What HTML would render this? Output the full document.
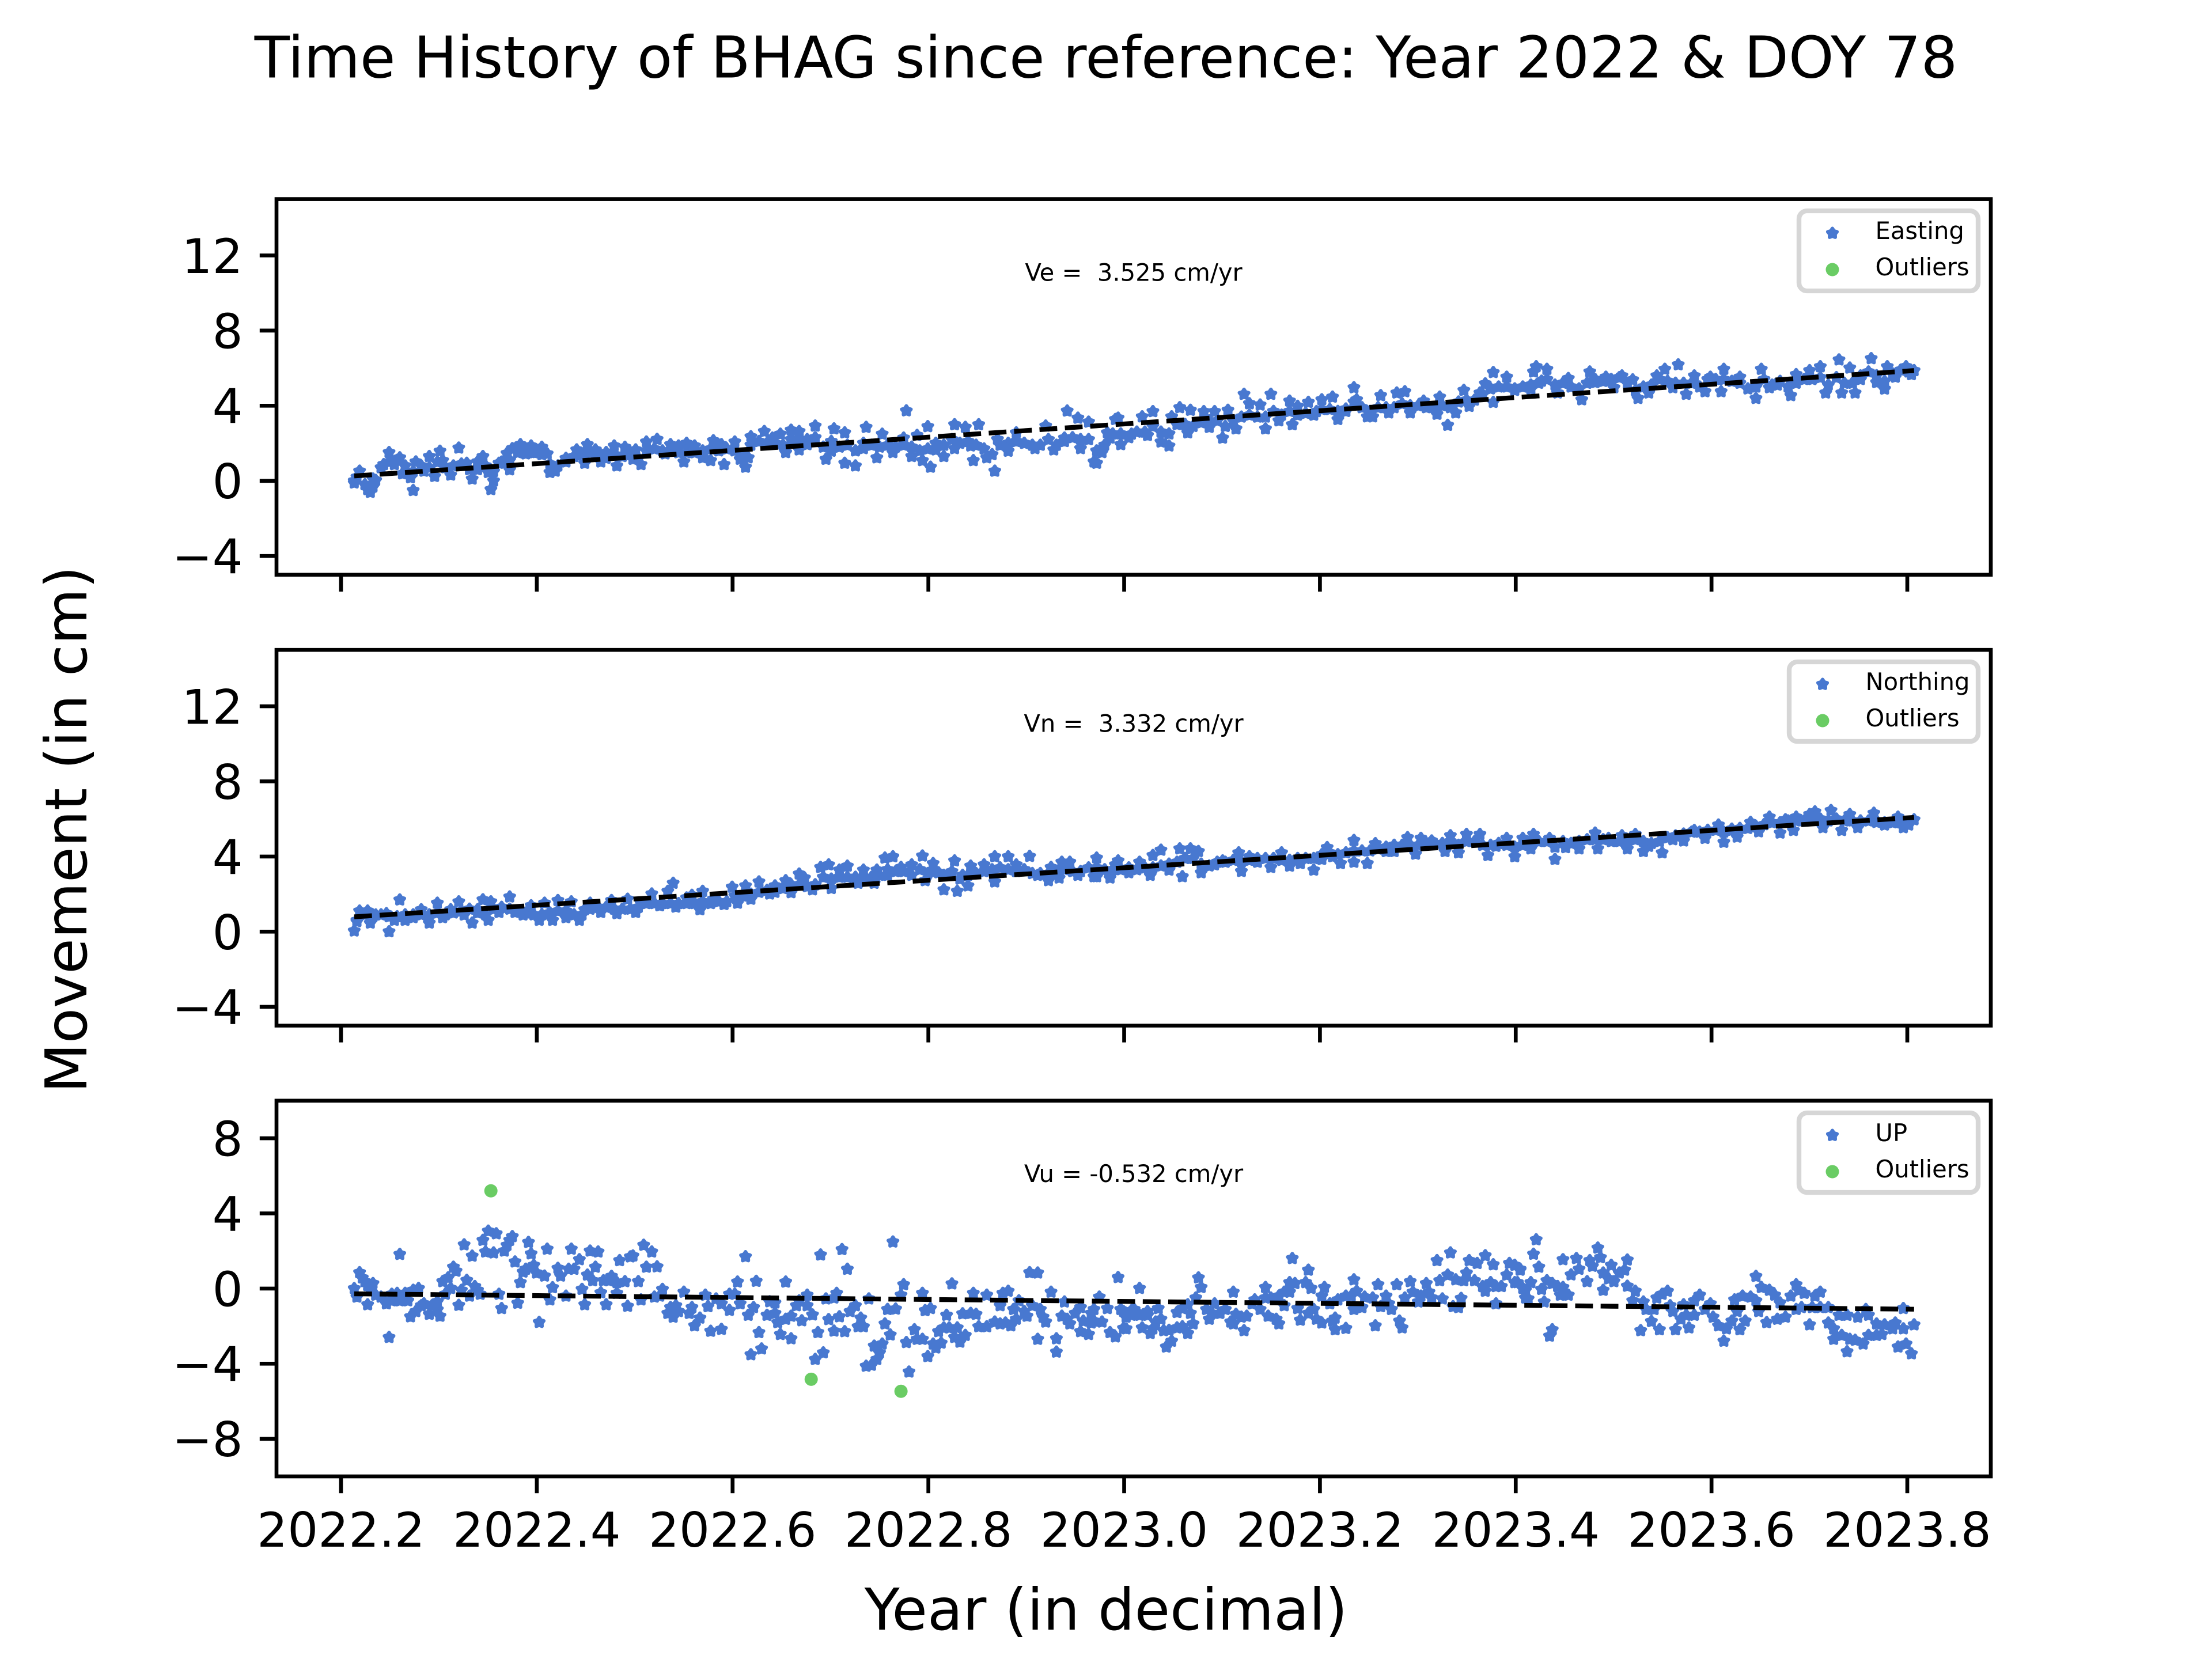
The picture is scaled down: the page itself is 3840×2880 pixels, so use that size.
<!DOCTYPE html>
<html lang="en">
<head>
<meta charset="utf-8">
<title>Time History of BHAG since reference</title>
<style>
html,body{margin:0;padding:0;background:#fff;}
svg{display:block;}
text{font-family:"DejaVu Sans","Liberation Sans",sans-serif;fill:#000;white-space:pre;}
</style>
</head>
<body>
<svg id="chart" xmlns="http://www.w3.org/2000/svg" width="3840" height="2880" viewBox="0 0 3840 2880">
<rect x="0" y="0" width="3840" height="2880" fill="#ffffff"/>
<text x="1920" y="134.5" font-size="100" text-anchor="middle">Time History of BHAG since reference: Year 2022 &amp; DOY 78</text>
<text x="1920" y="2829" font-size="100" text-anchor="middle">Year (in decimal)</text>
<text x="0" y="0" font-size="100" text-anchor="middle" transform="translate(150 1440) rotate(-90)">Movement (in cm)</text>
</svg>
<script>
// ---- chart data ----
const startYear = 2022.2135;
const xTickLabels = ["2022.2","2022.4","2022.6","2022.8","2023.0","2023.2","2023.4","2023.6","2023.8"];
const xTickYears = [2022.2,2022.4,2022.6,2022.8,2023.0,2023.2,2023.4,2023.6,2023.8];
const enTicks = [12,8,4,0,-4];
const upTicks = [8,4,0,-4,-8];

const eastDays = [0,2,0,5,6,8,7,11,13,15,17,18,22,21,23,26,28,32,30,33,36,39,42,44,46,48,50,51,52,54,58,57,59,62,64,66,68,70,72,73,75,79,83,86,87,90,92,94,97,98,101,104,105,107,109,113,116,118,121,123,124,127,130,133,134,137,138,142,144,146,147,148,153,156,159,161,163,166,166,169,172,176,179,178,183,183,187,190,191,195,197,201,206,205,208,210,212,215,214,217,220,224,224,228,230,231,233,236,239,240,244,247,250,254,258,261,265,266,270,271,274,276,278,281,284,
277,279,282,285,286,290,294,296,298,301,304,305,308,311,312,317,319,321,324,326,329,332,334,338,340,342,345,349,350,352,356,361,359,365,367,370,373,374,378,380,383,386,389,392,394,399,404,405,408,411,414,416,420,422,425,425,430,433,439,440,441,445,443,449,453,458,461,463,467,470,473,477,479,483,486,489,492,494,497,500,504,506,511,510,517,523,525,528,536,531,538,543,547,549,554,555,560,558,562,566,568,571,572,575,579,581,582];
const eastValues = [0,.52,-.11,-.46,-.61,.03,-.32,.87,1.51,.87,1.23,.38,-.51,.17,1.01,.52,1.30,1.58,.24,1.08,.31,1.75,.94,.10,1.01,1.30,.45,-.46,0,.94,.59,1.46,1.72,1.93,1.44,1.86,1.51,1.79,1.44,.45,.52,1.01,1.65,.94,1.93,1.65,1.01,1.51,1.86,.80,1.79,1.15,1.65,.87,2.07,2.21,1.44,1.93,1.86,1.01,2.00,1.86,1.23,1.08,2.14,1.93,.87,2.07,1.15,.73,1.23,2.35,2.63,2.28,2.49,1.51,2.70,1.65,2.63,1.93,2.92,1.15,2.77,1.58,.94,2.56,.80,1.72,2.85,1.23,2.49,1.51,3.73,2.28,1.30,2.42,1.08,.73,2.89,1.65,1.30,2.99,1.72,2.85,1.86,1.08,2.99,1.23,.52,2.21,1.58,2.56,2.00,1.72,2.92,1.65,2.28,3.72,3.34,1.72,3.13,1.01,1.58,2.56,3.27,
.94,1.51,2.28,3.34,1.93,2.49,3.41,2.42,3.69,2.07,1.86,3.41,3.90,2.56,3.76,3.69,2.85,3.69,2.28,3.76,2.77,4.61,4.11,4.04,2.77,4.61,3.20,4.25,2.99,3.97,4.18,4.32,3.69,4.46,3.27,3.83,4.96,4.32,3.41,3.41,4.54,3.62,4.68,4.75,3.62,4.25,3.55,4.46,2.96,3.62,4.82,3.97,4.68,5.17,5.77,4.18,5.52,4.82,4.89,5.80,6.08,5.94,5.31,4.68,5.45,4.32,5.80,5.24,5.52,4.96,5.59,5.38,4.39,4.68,5.59,5.94,4.96,6.18,4.61,5.59,4.75,5.52,5.94,4.75,5.52,4.39,5.94,4.96,4.54,5.10,5.66,5.87,6.08,4.68,6.44,4.68,4.68,6.01,5.59,6.51,5.24,4.89,6.08,5.52,6.08,5.66,5.87];
const eastTrend = [0.26,5.87];
const eastOutliers = [];

const northDays = [0,1,2,5,6,8,12,13,15,17,19,22,25,28,31,33,36,39,41,44,46,48,50,51,54,58,60,63,66,69,71,74,76,79,81,84,86,88,92,96,98,102,105,107,111,114,117,119,120,124,126,129,130,134,138,141,143,146,148,151,155,157,161,163,166,168,171,174,177,178,181,184,188,190,194,195,198,201,199,204,208,212,216,213,218,220,224,225,227,229,230,235,239,239,244,247,252,255,259,260,264,263,267,270,277,276,282,284,
277,282,285,289,293,297,298,301,304,308,309,312,315,316,321,324,330,331,334,337,342,346,349,353,358,361,363,365,368,373,373,378,381,385,388,393,396,398,402,407,409,412,415,420,423,426,430,433,436,440,439,446,448,452,457,463,464,468,473,475,478,481,483,488,492,496,500,504,509,511,514,516,521,524,528,532,534,538,537,543,545,548,551,555,558,561,567,568,571,576,578,580,582];
const northValues = [.04,.54,1.10,1.10,.46,.89,.96,0,.61,1.69,.61,.75,1.17,.46,1.52,.75,1.17,1.59,.89,.46,1.17,1.70,.61,1.59,1.03,1.85,1.03,.89,1.38,.61,1.52,.61,1.66,.75,1.59,.61,1.17,1.52,1.03,1.66,.96,1.73,1.03,1.52,2.01,1.38,2.15,2.58,1.31,1.80,1.94,1.17,2.15,1.73,1.45,2.37,1.52,2.44,1.73,2.65,2.01,2.44,2.72,2.08,3.07,2.86,2.23,3.42,3.56,2.30,3.28,3.49,2.58,3.28,2.58,3.28,3.92,3.99,3.00,3.42,3.56,4.03,3.63,2.72,3.14,2.23,3.77,2.15,3.00,2.44,3.49,3.56,3.99,2.65,3.99,3.56,4.01,3.00,2.72,3.42,3.70,2.86,3.70,3.00,3.92,2.93,3.00,3.56,
2.93,2.86,3.77,3.14,3.70,3.00,4.06,4.34,3.28,4.41,2.93,4.41,4.27,3.14,3.56,3.77,4.20,3.21,3.99,3.70,3.42,4.20,3.49,3.63,3.28,3.85,4.48,3.99,3.63,4.86,3.70,3.63,4.69,4.27,4.27,5.01,4.13,4.97,4.83,4.27,5.11,4.20,5.18,5.18,4.06,4.55,4.97,3.99,4.97,5.18,4.41,4.97,3.85,4.48,4.41,5.25,4.41,4.97,5.11,4.41,5.18,4.27,4.55,4.20,4.90,4.83,5.39,4.97,5.68,4.76,5.46,5.04,5.82,5.32,6.10,5.25,5.96,6.10,5.39,6.24,6.38,5.54,6.45,5.39,6.24,5.54,6.31,5.82,5.68,6.10,5.54,5.68,5.96];
const northTrend = [0.79,6.08];
const northOutliers = [];

// interior of the dense easting / northing bands, sampled every third day
const bandDays = [1,4,7,10,13,16,19,22,25,28,31,34,37,40,43,46,49,52,55,58,61,64,67,70,73,76,79,82,85,88,91,94,97,100,103,106,109,112,115,118,121,124,127,130,133,136,139,142,145,148,151,154,157,160,163,166,169,172,175,178,181,184,187,190,193,196,199,202,205,208,211,214,217,220,223,226,229,232,235,238,241,244,247,250,253,256,259,262,265,268,271,274,277,280,283,286,289,292,295,298,301,304,307,310,313,316,319,322,325,328,331,334,337,340,343,346,349,352,355,358,361,364,367,370,373,376,379,382,385,388,391,394,397,400,403,406,409,412,415,418,421,424,427,430,433,436,439,442,445,448,451,454,457,460,463,466,469,472,475,478,481,484,487,490,493,496,499,502,505,508,511,514,517,520,523,526,529,532,535,538,541,544,547,550,553,556,559,562,565,568,571,574,577,580];
const eastBand = [.2,-.2,.1,.7,1.0,1.1,.8,.5,.8,.7,1.0,.7,.8,.9,.6,.6,.8,.5,1.0,1.1,1.5,1.6,1.5,1.4,.9,.8,1.2,1.3,1.4,1.5,1.5,1.2,1.4,1.3,1.4,1.2,1.6,1.7,1.6,1.6,1.5,1.5,1.5,1.6,1.7,1.6,1.7,1.6,1.4,1.9,2.1,2.0,2.0,1.9,2.2,2.1,2.2,2.3,1.8,2.1,1.8,1.9,1.6,2.0,1.9,1.8,1.9,1.8,1.9,1.8,1.6,1.7,2.0,1.9,2.2,2.0,2.1,1.9,1.7,1.4,1.9,2.0,2.1,2.0,1.9,1.9,2.2,1.9,2.1,2.3,2.2,2.2,1.6,1.9,2.5,2.5,2.3,2.6,2.6,2.9,2.6,2.5,3.0,3.0,2.9,3.1,3.2,3.2,2.9,3.2,3.4,3.5,3.4,3.4,3.7,3.5,3.7,3.5,3.6,3.5,3.8,3.8,3.7,3.7,4.2,3.9,3.7,3.9,3.9,3.9,4.1,4.0,4.0,3.9,3.9,4.0,3.9,4.2,4.3,4.3,4.6,4.9,5.0,5.0,4.9,5.0,5.1,5.2,5.4,5.1,5.2,5.0,4.9,5.2,5.4,5.3,5.4,5.5,5.2,4.8,5.0,5.1,5.4,5.3,5.2,5.2,5.2,5.0,5.4,5.4,5.4,5.3,5.2,4.9,5.0,5.4,5.1,5.3,5.0,5.2,5.4,5.4,5.5,5.1,5.5,5.2,5.2,5.4,5.8,5.6,5.3,5.7,5.9,5.8];
const northBand = [.6,.9,.8,.9,.8,.8,.9,.9,.9,.9,1.0,.9,1.0,1.1,1.2,1.0,.9,1.2,1.3,1.2,1.1,1.0,.9,.9,1.0,1.1,1.1,.9,.9,1.2,1.3,1.3,1.2,1.2,1.2,1.3,1.5,1.5,1.5,1.5,1.5,1.5,1.5,1.6,1.5,1.6,1.6,1.9,1.9,2.0,2.1,2.2,2.1,2.3,2.5,2.5,2.4,2.5,2.9,2.8,2.9,2.9,2.9,2.9,2.9,3.0,3.3,3.2,3.2,3.0,3.3,3.1,3.2,3.0,3.2,2.8,3.0,3.1,3.2,3.3,3.4,3.3,3.2,3.3,3.1,3.1,3.1,3.2,3.3,3.2,3.2,3.4,3.4,3.3,3.3,3.3,3.4,3.3,3.4,3.4,3.5,3.6,3.7,3.9,3.9,3.6,3.5,3.7,3.7,3.8,3.7,3.8,3.9,3.9,3.9,3.8,3.8,3.9,3.9,3.9,4.1,4.2,4.1,4.2,4.3,4.3,4.3,4.4,4.5,4.6,4.6,4.6,4.6,4.7,4.7,4.7,4.8,4.6,4.8,4.8,4.6,4.6,4.7,4.6,4.5,4.6,4.8,4.8,4.8,4.5,4.8,4.7,4.8,4.9,4.9,4.9,4.8,4.8,4.8,4.9,4.8,4.7,4.8,5.0,5.1,5.2,5.3,5.3,5.4,5.4,5.3,5.4,5.5,5.5,5.6,5.7,5.8,5.8,5.9,5.9,5.9,6.0,6.0,5.9,6.0,5.9,5.9,5.9,5.9,5.9,5.8,5.8,5.8,5.8];

const upDays = [0,2,3,4,5,7,6,1,5,8,10,12,14,16,14,17,19,20,22,24,17,13,21,23,25,26,28,29,31,32,31,33,35,37,38,41,36,34,39,42,40,45,46,44,43,47,50,48,53,49,52,54,55,56,57,59,58,60,62,63,64,61,65,66,67,68,71,72,69,74,73,76,77,79,80,81,82,84,85,86,87,89,88,91,90,92,94,93,96,95,98,99,98,101,102,104,103,106,107,108,111,109,113,112,115,114,117,119,118,121,123,120,125,126,129,127,133,137,131,132,135,137,140,140,142,143,144,
146,150,161,149,147,151,152,148,154,157,157,155,158,159,163,161,163,165,166,169,169,167,171,173,174,182,184,176,179,180,177,181,179,183,175,172,185,187,189,188,190,192,198,200,199,202,201,197,194,196,195,193,191,204,205,206,207,209,210,212,212,213,215,214,216,217,219,218,220,221,223,222,225,224,226,228,227,230,232,231,236,233,236,239,241,241,242,244,243,245,247,246,248,251,250,252,255,253,255,256,258,257,260,262,262,264,265,267,266,271,269,271,274,272,275,276,275,278,276,279,281,282,284,285,286,287,288,290,
287,288,290,293,291,294,293,296,296,297,298,299,301,300,302,303,305,304,307,307,309,311,309,311,312,313,314,315,316,318,319,321,320,323,325,327,328,328,329,332,331,333,335,336,338,340,340,342,341,344,345,345,347,347,349,350,351,349,352,353,355,356,357,356,358,359,361,362,361,364,365,366,366,370,367,370,372,373,373,374,376,377,380,381,382,383,385,386,387,389,390,391,392,394,395,397,398,400,401,402,406,404,405,408,409,410,411,413,412,414,415,416,419,418,421,422,422,425,424,426,426,428,430,431,433,433,435,436,437,
435,434,437,439,438,441,440,442,443,444,445,447,449,451,453,450,447,446,451,456,454,457,460,461,462,464,465,466,466,469,468,470,472,475,474,475,478,477,480,481,482,484,485,487,486,488,490,491,492,493,495,496,497,498,500,500,502,504,506,507,509,511,512,514,517,519,516,515,518,521,523,523,524,525,527,528,530,531,532,534,536,538,538,539,541,540,543,544,545,547,547,550,550,552,552,554,555,557,557,558,560,561,563,564,565,565,568,568,570,571,574,575,576,578,578,579,581,582];
const upValues = [0,.85,.57,.37,.16,.27,.06,-.45,-.86,-.35,-.45,-.81,-.30,-.25,-.65,-.65,-.25,-.65,-.09,.01,1.82,-2.60,-1.50,-1.22,-.91,-.81,-1.37,-.91,-.70,-1.47,-1.12,.37,.57,1.14,.93,2.33,.01,-.30,-.89,.44,-.09,.11,-.09,1.73,-.40,-.30,3.06,2.57,2.92,1.95,1.90,-.30,-1.06,2.00,2.30,2.77,2.57,1.42,.32,.88,1.03,-.78,2.46,1.85,1.24,.83,.67,2.10,-1.80,.05,-.60,1.08,.67,-.40,1.03,2.10,1.03,1.54,-.04,-.86,.72,.42,2.00,1.95,1.14,-.22,-.86,.42,.65,.42,-.25,1.49,.32,.37,-.94,1.74,1.69,.37,-.60,2.31,1.95,1.14,1.16,-.45,-.04,-.40,-1.32,-1.52,-1.01,-1.22,-.19,-.91,-1.32,-1.01,-1.57,-1.98,-2.27,-2.17,-.35,-.96,-.55,-.81,-1.16,-.30,-.30,.35,-.81,
1.70,.39,.35,-1.01,-1.42,-2.34,-3.21,-3.52,-1.42,-1.32,-.76,-.70,-1.81,-2.44,-2.67,-1.63,-1.47,-.91,-.65,-.91,-.35,-1.71,-1.40,-2.34,1.79,2.08,1.03,-.55,-.50,-.25,-1.65,-1.50,-2.26,-2.29,-3.42,-3.77,-1.22,-.91,-1.57,-2.03,-2.03,-.55,-1.88,-2.47,-1.11,-1.09,2.48,-2.95,-3.06,-3.42,-3.77,-4.08,-4.13,-.35,.21,-2.87,-4.44,-2.19,-2.70,-2.70,-.25,-1.17,-1.06,-3.62,-2.95,-3.16,-2.90,-2.29,-2.09,-1.42,.25,-2.09,-2.09,-2.60,-2.85,-2.49,-1.34,-1.32,-1.37,-.25,-.35,-2.03,-2.03,-1.78,-1.88,-.91,-.25,-.14,-1.83,-1.98,-1.63,-1.11,-.65,-1.47,-1.22,.85,.83,-.91,-2.70,-1.11,-1.78,-1.52,-.19,-2.67,-3.38,-1.47,-.71,-1.88,-1.63,-1.01,-1.32,-2.29,-2.44,-1.73,-1.83,-1.11,-1.32,-.45,-1.73,-1.78,-1.06,-2.34,-2.57,.59,-1.11,-2.12,-1.52,-1.17,
-1.22,-2.14,-1.42,.01,-1.11,-2.09,-1.42,-1.22,-1.42,-2.39,-2.14,-1.78,-1.63,-1.06,-2.24,-3.11,-2.80,-2.22,-1.27,-2.09,-2.03,-2.39,-1.06,-.86,-1.32,-1.88,-.50,.57,.06,-1.11,-1.63,-.81,-1.32,-1.32,-1.11,-1.78,-1.88,-.19,-1.37,-2.24,-1.52,-1.47,-.81,-.60,-1.11,.06,-.50,-.50,-1.47,-1.63,-1.88,-.40,-.91,-.19,.32,1.60,.27,-.19,-1.06,-1.68,.32,.98,.01,-1.32,-1.11,-1.63,-1.83,.06,-.40,-.81,-1.73,-1.57,-2.19,-2.12,-.60,-.40,-.40,-1.11,.47,-.14,-1.01,-.45,-.50,-1.98,.21,-.96,-.40,-.81,-1.11,.21,-1.73,-2.09,-.50,.37,-.19,-.71,-.40,.27,-.19,-.50,-.55,1.49,.42,.72,1.90,-.96,.47,-.52,-1.01,.42,.83,1.49,1.34,.42,.11,-.14,1.75,1.27,.32,-.81,.11,.11,.72,1.34,.32,1.24,1.03,.01,-.50,
.98,.32,-.09,.32,-.55,2.60,1.83,1.14,-.04,-.71,.42,.27,.11,.06,-.35,-.35,-2.19,-2.53,1.54,1.60,.73,1.03,.37,1.49,1.19,2.16,1.65,.83,-.09,1.24,.52,.37,.83,1.52,.98,.13,-.14,-.65,-2.24,-.71,-1.11,-1.75,-1.11,-2.19,-.50,-.30,-.14,-.91,-1.22,-2.19,-1.63,-.86,-1.42,-2.09,-1.42,-.65,-.35,-1.11,-.81,-1.52,-1.98,-2.80,-2.14,-1.73,-2.19,-1.73,-1.22,-.60,-.40,-.45,-.65,.65,-1.22,.06,-1.81,-.09,-.35,-1.63,-.76,-1.52,-.40,.21,-1.11,-.09,-.25,-1.01,-1.93,-1.01,-.40,-.19,-1.01,-1.83,-1.01,-2.14,-2.70,-1.42,-2.49,-3.36,-1.42,-2.70,-2.75,-1.52,-2.95,-1.11,-1.42,-2.49,-1.88,-2.49,-2.44,-1.93,-2.14,-1.83,-3.11,-1.06,-2.14,-2.95,-3.47,-1.93];
const upTrend = [-0.28,-1.10];
const upOutlierDays = [51,170.5,204];
const upOutlierValues = [5.20,-4.83,-5.47];
const trendDays = [0,582];

// ---- rendering ----
const NS = "http://www.w3.org/2000/svg";
const svg = document.getElementById("chart");
const AX_LEFT = 480, AX_RIGHT = 3456, X_MIN = 2022.1341, X_MAX = 2023.8853;
const SPINE = 6.67, TICK = 29.2, PAD = 29.2;
const BLUE = "#4878d0", GREEN = "#6acc64";

function xOfYear(yr){ return AX_LEFT + (yr - X_MIN) / (X_MAX - X_MIN) * (AX_RIGHT - AX_LEFT); }
function xOfDay(d){ return xOfYear(startYear + d / 365.25); }
function makeY(top, bottom, yMin, yMax){ return function(v){ return bottom - (v - yMin) / (yMax - yMin) * (bottom - top); }; }

function starPath(){
  const R = 8.5, r = 5; let d = "";
  for (let i = 0; i < 10; i++){
    const a = -Math.PI / 2 + i * Math.PI / 5, q = i % 2 ? r : R;
    d += (i ? "L" : "M") + (q * Math.cos(a)).toFixed(2) + " " + (q * Math.sin(a)).toFixed(2);
  }
  return d + "Z";
}
const STAR = starPath();

function drawStar(parent, cx, cy){
  const s = document.createElementNS(NS, "path");
  s.setAttribute("d", STAR);
  s.setAttribute("transform", "translate(" + cx.toFixed(1) + " " + cy.toFixed(1) + ")");
  s.setAttribute("fill", BLUE);
  s.setAttribute("stroke", BLUE);
  s.setAttribute("stroke-width", "6");
  s.setAttribute("stroke-linejoin", "round");
  
  
  parent.appendChild(s);
}
function drawCircle(parent, cx, cy){
  const c = document.createElementNS(NS, "circle");
  c.setAttribute("cx", cx.toFixed(1));
  c.setAttribute("cy", cy.toFixed(1));
  c.setAttribute("r", "11.5");
  c.setAttribute("fill", GREEN);
  
  
  parent.appendChild(c);
}
function drawLine(parent, x1, y1, x2, y2){
  const l = document.createElementNS(NS, "line");
  l.setAttribute("x1", x1); l.setAttribute("y1", y1);
  l.setAttribute("x2", x2); l.setAttribute("y2", y2);
  l.setAttribute("stroke", "#000");
  l.setAttribute("stroke-width", SPINE);
  
  
  parent.appendChild(l);
}
function drawText(parent, str, x, y, size, anchor, name){
  const t = document.createElementNS(NS, "text");
  t.setAttribute("x", x); t.setAttribute("y", y);
  t.setAttribute("font-size", size);
  t.setAttribute("text-anchor", anchor);
  t.setAttribute("xml:space", "preserve");
  
  
  t.textContent = str;
  parent.appendChild(t);
}

function drawPanel(p){
  const g = document.createElementNS(NS, "g");
  
  
  svg.appendChild(g);
  const yOf = makeY(p.top, p.bottom, p.yMin, p.yMax);

  for (let i = 0; i < p.values.length; i++) drawStar(g, xOfDay(p.days[i]), yOf(p.values[i]));
  for (let i = 0; i < p.outDays.length; i++) drawCircle(g, xOfDay(p.outDays[i]), yOf(p.outValues[i]));

  const tr = document.createElementNS(NS, "line");
  tr.setAttribute("x1", xOfDay(trendDays[0]));
  tr.setAttribute("y1", yOf(p.trend[0]));
  tr.setAttribute("x2", xOfDay(trendDays[1]));
  tr.setAttribute("y2", yOf(p.trend[1]));
  tr.setAttribute("stroke", "#000");
  tr.setAttribute("stroke-width", "8.33");
  tr.setAttribute("stroke-dasharray", "30.83 13.33");
  
  
  g.appendChild(tr);

  const frame = document.createElementNS(NS, "rect");
  frame.setAttribute("x", AX_LEFT); frame.setAttribute("y", p.top);
  frame.setAttribute("width", AX_RIGHT - AX_LEFT);
  frame.setAttribute("height", p.bottom - p.top);
  frame.setAttribute("fill", "none");
  frame.setAttribute("stroke", "#000");
  frame.setAttribute("stroke-width", SPINE);
  
  
  g.appendChild(frame);

  p.ticks.forEach(function(v){
    const y = yOf(v);
    drawLine(g, AX_LEFT - TICK, y, AX_LEFT, y);
    drawText(g, String(v).replace("-", "\u2212"), AX_LEFT - TICK - PAD, y + 30.4, 83.33, "end", "y-tick-label");
  });
  xTickYears.forEach(function(yr, i){
    const x = xOfYear(yr);
    drawLine(g, x, p.bottom, x, p.bottom + TICK);
    if (p.showX) drawText(g, xTickLabels[i], x, 2685, 83.33, "middle", "x-tick-label");
  });

  drawText(g, p.note, 1968, p.noteY, 41.67, "middle", p.name + "-velocity-note");

  const lg = document.createElementNS(NS, "g");
  
  
  g.appendChild(lg);
  const box = document.createElementNS(NS, "rect");
  box.setAttribute("x", p.lgX); box.setAttribute("y", p.lgY);
  box.setAttribute("width", 3434 - p.lgX); box.setAttribute("height", p.lgH);
  box.setAttribute("rx", "14");
  box.setAttribute("fill", "#fff");
  box.setAttribute("stroke", "#d6d6d6");
  box.setAttribute("stroke-width", "8.33");
  
  
  lg.appendChild(box);
  drawStar(lg, p.lgX + 58, p.lgY + 39);
  drawCircle(lg, p.lgX + 58, p.lgY + 102);
  drawText(lg, p.label, p.lgX + 132.5, p.lgY + 49, 41.67, "start", "legend-entry");
  drawText(lg, "Outliers", p.lgX + 132.5, p.lgY + 112, 41.67, "start", "legend-entry");
}

drawPanel({name:"easting", top:345.6, bottom:997.8, yMin:-5, yMax:15, ticks:enTicks, days:bandDays.concat(eastDays), values:eastBand.concat(eastValues), outDays:eastOutliers, outValues:[], trend:eastTrend, note:"Ve =  3.525 cm/yr", noteY:487.5, label:"Easting", lgX:3123, lgY:366, lgH:139, showX:false});
drawPanel({name:"northing", top:1128.2, bottom:1780.4, yMin:-5, yMax:15, ticks:enTicks, days:bandDays.concat(northDays), values:northBand.concat(northValues), outDays:northOutliers, outValues:[], trend:northTrend, note:"Vn =  3.332 cm/yr", noteY:1270.5, label:"Northing", lgX:3106, lgY:1149, lgH:138, showX:false});
drawPanel({name:"up", top:1910.8, bottom:2563, yMin:-10, yMax:10, ticks:upTicks, days:upDays, values:upValues, outDays:upOutlierDays, outValues:upOutlierValues, trend:upTrend, note:"Vu = -0.532 cm/yr", noteY:2052, label:"UP", lgX:3123, lgY:1932, lgH:138, showX:true});
</script>
</body>
</html>
